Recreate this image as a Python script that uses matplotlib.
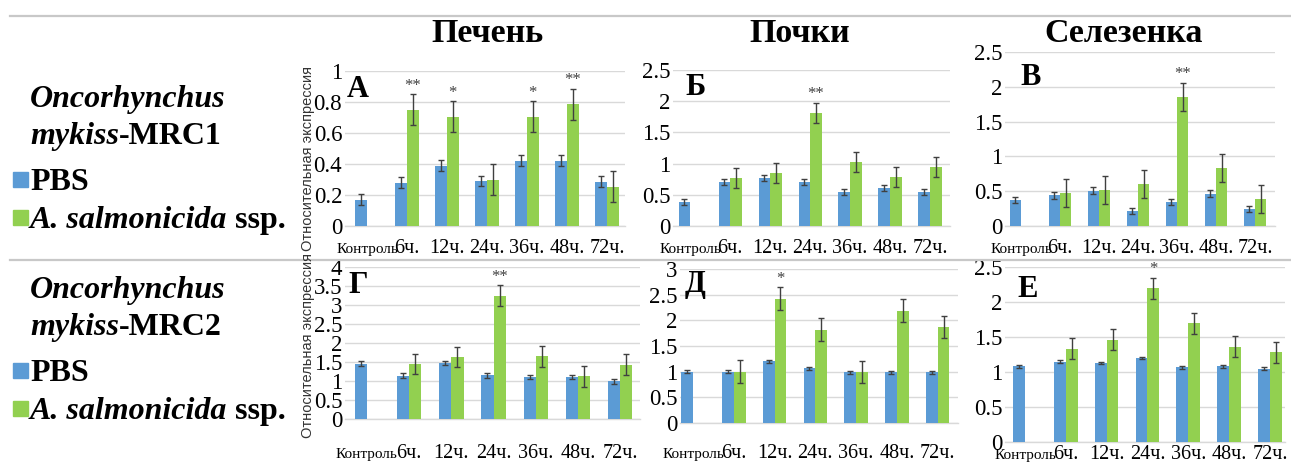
import numpy as np
import matplotlib
matplotlib.use('Agg')
import matplotlib.pyplot as plt
from matplotlib.patches import Rectangle
from matplotlib.lines import Line2D
from matplotlib.ticker import FuncFormatter

# ---------------- data ----------------
categories = ['Контроль', '6ч.', '12ч.', '24ч.', '36ч.', '48ч.', '72ч.']
nan = np.nan

# MRC1
liver1_pbs = [0.17, 0.28, 0.39, 0.29, 0.42, 0.42, 0.285]
liver1_pbs_err = [0.035, 0.033, 0.033, 0.035, 0.035, 0.035, 0.035]
liver1_as = [nan, 0.75, 0.705, 0.297, 0.705, 0.787, 0.254]
liver1_as_err = [nan, 0.1, 0.1, 0.1, 0.1, 0.1, 0.1]
liver1_stars = ['', '**', '*', '', '*', '**', '']

kidney1_pbs = [0.38, 0.71, 0.765, 0.71, 0.55, 0.615, 0.545]
kidney1_pbs_err = [0.05, 0.05, 0.05, 0.05, 0.05, 0.05, 0.05]
kidney1_as = [nan, 0.765, 0.845, 1.81, 1.03, 0.79, 0.94]
kidney1_as_err = [nan, 0.16, 0.16, 0.16, 0.16, 0.16, 0.16]
kidney1_stars = ['', '', '', '**', '', '', '']

spleen1_pbs = [0.37, 0.44, 0.51, 0.216, 0.35, 0.466, 0.245]
spleen1_pbs_err = [0.045, 0.045, 0.045, 0.045, 0.045, 0.045, 0.045]
spleen1_as = [nan, 0.48, 0.52, 0.606, 1.855, 0.83, 0.39]
spleen1_as_err = [nan, 0.2, 0.2, 0.2, 0.2, 0.2, 0.2]
spleen1_stars = ['', '', '', '', '**', '', '']

# MRC2
liver2_pbs = [1.46, 1.14, 1.47, 1.15, 1.1, 1.1, 0.99]
liver2_pbs_err = [0.06, 0.06, 0.06, 0.06, 0.06, 0.06, 0.06]
liver2_as = [nan, 1.45, 1.63, 3.25, 1.65, 1.12, 1.43]
liver2_as_err = [nan, 0.27, 0.27, 0.27, 0.27, 0.27, 0.27]
liver2_stars = ['', '', '', '**', '', '', '']

kidney2_pbs = [1.0, 1.0, 1.2, 1.07, 0.99, 0.99, 0.99]
kidney2_pbs_err = [0.03, 0.03, 0.03, 0.03, 0.03, 0.03, 0.03]
kidney2_as = [nan, 1.0, 2.42, 1.82, 0.99, 2.19, 1.87]
kidney2_as_err = [nan, 0.22, 0.22, 0.22, 0.22, 0.22, 0.22]
kidney2_stars = ['', '', '*', '', '', '', '']

spleen2_pbs = [1.08, 1.15, 1.13, 1.2, 1.07, 1.08, 1.05]
spleen2_pbs_err = [0.02, 0.02, 0.02, 0.02, 0.02, 0.02, 0.02]
spleen2_as = [nan, 1.33, 1.46, 2.2, 1.70, 1.36, 1.28]
spleen2_as_err = [nan, 0.15, 0.15, 0.15, 0.15, 0.15, 0.15]
spleen2_stars = ['', '', '', '*', '', '', '']

organ_titles = ['Печень', 'Почки', 'Селезенка']
panel_letters = ['А', 'Б', 'В', 'Г', 'Д', 'Е']
ylabel_text = 'Относительная экспрессия'
series_names = ['PBS', 'A. salmonicida']

# ---------------- style ----------------
W, H = 1291, 462
BLUE = '#5B9BD5'
GREEN = '#92D050'
GRID = '#D9D9D9'
ERR = '#404040'
SERIF = ['Liberation Serif', 'DejaVu Serif']
plt.rcParams['font.family'] = SERIF

fig = plt.figure(figsize=(W / 100, H / 100), dpi=100)


def fx(x):
    return x / W


def fy(y):
    return 1 - y / H


layouts = [
    dict(x=(345, 625), y=(71, 226), xlim=(-0.55, 6.45), ylim=(0, 1), step=0.2, lab=27, let=(347, 97)),
    dict(x=(673, 950), y=(70, 226), xlim=(-0.43, 6.5), ylim=(0, 2.5), step=0.5, lab=27, let=(685, 95)),
    dict(x=(1005, 1275), y=(52, 226), xlim=(-0.41, 6.51), ylim=(0, 2.5), step=0.5, lab=27, let=(1020, 85)),
    dict(x=(345, 640), y=(267, 419), xlim=(-0.52, 6.47), ylim=(0, 4), step=0.5, lab=39, let=(348, 293)),
    dict(x=(680, 958), y=(269, 423), xlim=(-0.32, 6.5), ylim=(0, 3), step=0.5, lab=35, let=(685, 292)),
    dict(x=(1005, 1285), y=(267, 442), xlim=(-0.49, 6.37), ylim=(0, 2.5), step=0.5, lab=17, let=(1017, 297)),
]

data = [
    (liver1_pbs, liver1_pbs_err, liver1_as, liver1_as_err, liver1_stars),
    (kidney1_pbs, kidney1_pbs_err, kidney1_as, kidney1_as_err, kidney1_stars),
    (spleen1_pbs, spleen1_pbs_err, spleen1_as, spleen1_as_err, spleen1_stars),
    (liver2_pbs, liver2_pbs_err, liver2_as, liver2_as_err, liver2_stars),
    (kidney2_pbs, kidney2_pbs_err, kidney2_as, kidney2_as_err, kidney2_stars),
    (spleen2_pbs, spleen2_pbs_err, spleen2_as, spleen2_as_err, spleen2_stars),
]

bw = 0.29
x = np.arange(len(categories))
fmt = FuncFormatter(lambda v, p: '%g' % round(v, 2))

for i, (lay, (pbs, pbse, asv, ase, stars)) in enumerate(zip(layouts, data)):
    x0, x1 = lay['x']
    yt, yb = lay['y']
    ax = fig.add_axes([fx(x0), fy(yb), (x1 - x0) / W, (yb - yt) / H])
    ax.patch.set_alpha(0)
    ax.bar(x - bw / 2, pbs, bw, color=BLUE, zorder=3,
           yerr=pbse, error_kw=dict(ecolor=ERR, elinewidth=1, capsize=2.5, capthick=1, zorder=4))
    ax.bar(x + bw / 2, asv, bw, color=GREEN, zorder=3,
           yerr=ase, error_kw=dict(ecolor=ERR, elinewidth=1, capsize=2.5, capthick=1, zorder=4))
    for k, s in enumerate(stars):
        if s:
            ax.annotate(s, xy=(x[k] + bw / 2, asv[k] + ase[k]), xytext=(0, 0.5),
                        textcoords='offset points', ha='center', va='bottom',
                        fontsize=12, color=ERR, zorder=5)
    ax.set_xlim(*lay['xlim'])
    ax.set_ylim(*lay['ylim'])
    ax.set_yticks(np.arange(0, lay['ylim'][1] + 1e-9, lay['step']))
    ax.yaxis.set_major_formatter(fmt)
    ax.tick_params(axis='y', length=0, pad=2, labelsize=16.5)
    ax.set_xticks([])
    ax.grid(axis='y', color=GRID, lw=1, zorder=0)
    for sp in ['top', 'right', 'left']:
        ax.spines[sp].set_visible(False)
    ax.spines['bottom'].set_color(GRID)
    ax.spines['bottom'].set_linewidth(1)
    for k, c in enumerate(categories):
        ax.annotate(c, xy=(x[k], 0), xycoords=('data', 'axes fraction'),
                    xytext=(0, -lay['lab'] * 0.72), textcoords='offset points',
                    ha='center', va='baseline', fontsize=11 if k == 0 else 14.5,
                    annotation_clip=False)
    lx, ly = lay['let']
    fig.text(fx(lx), fy(ly), panel_letters[i], fontsize=22, fontweight='bold',
             ha='left', va='baseline')

for t, cx in zip(organ_titles, [487, 800, 1124]):
    fig.text(fx(cx), fy(42), t, fontsize=24.5, fontweight='bold', ha='center', va='baseline')

for cy in [158, 346]:
    fig.text(fx(308), fy(cy), ylabel_text, rotation=90, ha='center', va='center',
             fontsize=10.5, color='#333333',
             family=['Liberation Sans', 'DejaVu Sans'])

for yy in [16, 260]:
    fig.add_artist(Line2D([fx(10), 1.0], [fy(yy), fy(yy)], color='#C8C8C8', lw=1.6))

renderer = fig.canvas.get_renderer()


def mixed(xp, yp, parts, size=23):
    for s, style in parts:
        t = fig.text(fx(xp), fy(yp), s, fontsize=size, fontweight='bold',
                     fontstyle=style, ha='left', va='baseline')
        bb = t.get_window_extent(renderer=renderer)
        xp += bb.width


for base, mrc in [(0, 'MRC1'), (191, 'MRC2')]:
    mixed(30, 107 + base, [('Oncorhynchus', 'italic')])
    mixed(30, 144 + base, [('mykiss', 'italic'), ('-' + mrc, 'normal')])
    mixed(30, 190 + base, [(series_names[0], 'normal')])
    mixed(30, 228 + base, [(series_names[1], 'italic'), (' ssp.', 'normal')])
    fig.add_artist(Rectangle((fx(13), fy(187 + base)), 15 / W, 15 / H,
                             transform=fig.transFigure, color=BLUE))
    fig.add_artist(Rectangle((fx(13), fy(225 + base)), 15 / W, 15 / H,
                             transform=fig.transFigure, color=GREEN))

fig.savefig('out.png', dpi=100)
